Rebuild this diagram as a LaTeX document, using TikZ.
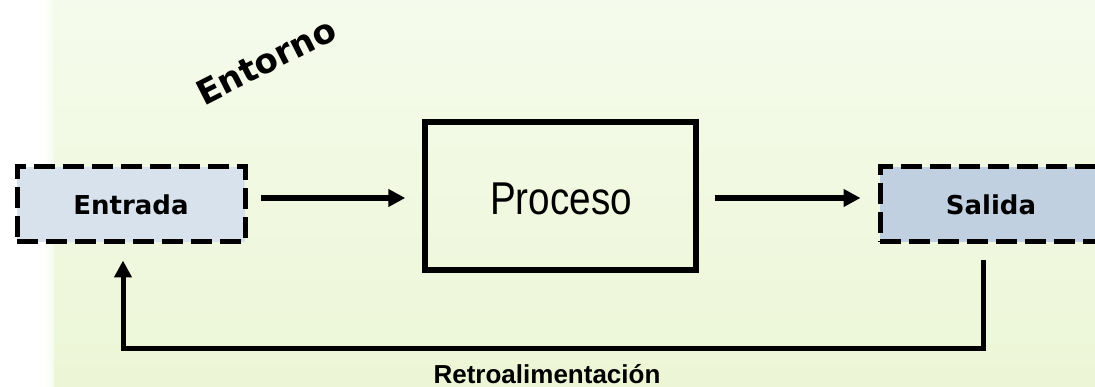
\documentclass[tikz,border=0pt]{standalone}
\usepackage{fontspec}
\setmainfont{Liberation Sans}
\newfontfamily\verd{DejaVu Sans}
\usetikzlibrary{arrows.meta}
\definecolor{bgtop}{RGB}{245,251,236}
\definecolor{bgbot}{RGB}{236,246,214}
\definecolor{boxa}{RGB}{216,226,236}
\definecolor{boxb}{RGB}{192,208,224}
\tikzset{
  dashbox/.style={draw=black, line width=5pt, dash pattern=on 21pt off 8pt, inner sep=0pt, font=\verd\bfseries\fontsize{26}{30}\selectfont},
  procbox/.style={draw=black, line width=5.5pt, fill=none, inner sep=0pt},
  arr/.style={line width=5.5pt, line join=miter, -{Triangle[length=17pt,width=17pt]}},
  fbarr/.style={line width=5pt, line join=miter, -{Triangle[length=17pt,width=17pt]}}
}
\begin{document}
\begin{tikzpicture}[x=1pt,y=-1pt]
\clip (0,0) rectangle (1095,387);
\fill[white] (0,0) rectangle (1095,387);
\shade[top color=bgtop, bottom color=bgbot] (53,0) rectangle (1095,387);
\shade[left color=white, right color=bgtop] (44,0) rectangle (54,387);
% nodes
\node[dashbox, fill=boxa, minimum width=228pt, minimum height=75pt] (entrada) at (131,204.5) {\raisebox{-2pt}{Entrada}};
\node[dashbox, fill=boxb, minimum width=230pt, minimum height=75pt] (salida) at (995,204.5) {\hspace*{-8pt}\raisebox{-2pt}{Salida}};
\node[procbox, minimum width=271pt, minimum height=148pt] (proceso) at (560.5,196) {};
\node[anchor=base, font=\fontsize{46}{50}\selectfont] (proctext) at (561,215) {\scalebox{0.84}[1]{Proceso}};
\node[rotate=27, font=\verd\bfseries\fontsize{34}{38}\selectfont] (entorno) at (266,61) {Entorno};
\node[anchor=base, font=\bfseries\fontsize{26}{30}\selectfont] (retro) at (547,383) {Retroalimentación};
% connectors
\coordinate (ay) at (0,198);
\coordinate (fb1) at (983,348);
\coordinate (fb2) at (123,348);
\draw[arr, shorten <=13pt, shorten >=17pt] (entrada.east |- ay) -- (proceso.west |- ay);
\draw[arr, shorten <=16pt, shorten >=17pt] (proceso.east |- ay) -- (salida.west |- ay);
\draw[fbarr, shorten <=16pt, shorten >=16pt] (salida.south -| fb1) -- (fb1) -- (fb2) -- (entrada.south -| fb2);
\end{tikzpicture}
\end{document}
